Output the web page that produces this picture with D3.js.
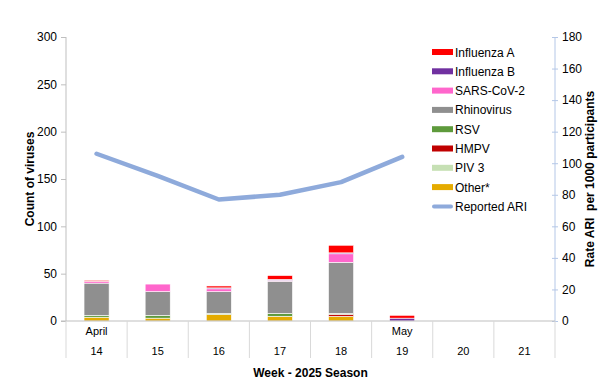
<!DOCTYPE html>
<html>
<head>
<meta charset="utf-8">
<script src="https://cdn.jsdelivr.net/npm/d3@7"></script>
<style>
  body { margin: 0; background: #fff; }
  svg { font-family: "Liberation Sans", Arial, sans-serif; }
</style>
</head>
<body>
<div id="chart"></div>
<script>
var weeks = ["14", "15", "16", "17", "18", "19", "20", "21"];
var months = ["April", "", "", "", "", "May", "", ""];

// virus counts per week (bottom to top in the stack)
var other = [4, 3, 7, 5, 5, 0, 0, 0];
var piv3 = [0, 0, 0, 0, 0, 0, 0, 0];
var hmpv = [0, 0, 0, 0, 2, 0, 0, 0];
var rsv = [2, 3, 1, 3, 1, 0, 0, 0];
var rhinovirus = [34, 25, 23, 34, 54, 0, 0, 0];
var sarsCov2 = [2, 8, 3, 1, 9, 0, 0, 0];
var influenzaB = [0, 0, 1, 1, 1, 3, 0, 0];
var influenzaA = [1, 0, 2, 4, 8, 3, 0, 0];

// reported ARI rate per 1000 participants
var reportedARI = [106, 92, 77, 80, 88, 104, null, null];

var countTicks = [0, 50, 100, 150, 200, 250, 300];
var rateTicks = [0, 20, 40, 60, 80, 100, 120, 140, 160, 180];

var keys = ["Other*", "PIV 3", "HMPV", "RSV", "Rhinovirus", "SARS-CoV-2", "Influenza B", "Influenza A"];
var colors = d3.scaleOrdinal().domain(keys)
    .range(["#e5ab00", "#c6e0b4", "#c00000", "#5e9a3c", "#8f8f8f", "#ff66cc", "#7030a0", "#ff0000"]);
var lineColor = "#8eaadb";

var w = 600, h = 384;
var plotLeft = 66, plotRight = 555, plotTop = 37, plotBottom = 321;

var dataset = weeks.map(function (wk, i) {
    return {
        week: wk,
        "Other*": other[i],
        "PIV 3": piv3[i],
        "HMPV": hmpv[i],
        "RSV": rsv[i],
        "Rhinovirus": rhinovirus[i],
        "SARS-CoV-2": sarsCov2[i],
        "Influenza B": influenzaB[i],
        "Influenza A": influenzaA[i]
    };
});

var series = d3.stack().keys(keys)(dataset);

var xScale = d3.scaleBand().domain(weeks).range([plotLeft, plotRight]).paddingInner(0).paddingOuter(0);
var yScale = d3.scaleLinear().domain([0, 300]).range([plotBottom, plotTop]);
var yRate = d3.scaleLinear().domain([0, 180]).range([plotBottom, plotTop]);

var svg = d3.select("#chart").append("svg").attr("width", w).attr("height", h);

// stacked bars
var barW = xScale.bandwidth() * 0.41;
var groups = svg.selectAll("g.series").data(series).enter().append("g")
    .attr("class", "series")
    .attr("fill", function (d) { return colors(d.key); });

groups.selectAll("rect")
    .data(function (d) { return d.filter(function (s) { return s[1] - s[0] > 0; }); })
    .enter()
    .append("rect")
    .attr("x", function (d) { return xScale(d.data.week) + (xScale.bandwidth() - barW) / 2; })
    .attr("y", function (d) { return yScale(d[1]); })
    .attr("width", barW)
    .attr("height", function (d) { return yScale(d[0]) - yScale(d[1]); })
    .attr("stroke", "#fff")
    .attr("stroke-width", 0.6);

// left axis
var yAxis = d3.axisLeft(yScale).tickValues(countTicks).tickSize(5).tickPadding(4);
var gy = svg.append("g").attr("transform", "translate(" + plotLeft + ",0)").call(yAxis);
gy.selectAll("path, line").attr("stroke", "#bfbfbf");
gy.selectAll("text").attr("font-size", "12px").attr("fill", "#000").attr("font-family", "Liberation Sans, Arial, sans-serif");
gy.select(".domain").attr("d", "M0," + plotTop + "V" + plotBottom);

// right axis
var yAxisR = d3.axisRight(yRate).tickValues(rateTicks).tickSize(0).tickPadding(7);
var gr = svg.append("g").attr("transform", "translate(" + plotRight + ",0)").call(yAxisR);
gr.select(".domain").attr("stroke", "#b4c7e7").attr("d", "M0," + plotTop + "V" + plotBottom);
gr.selectAll("text").attr("font-size", "12px").attr("fill", "#000").attr("font-family", "Liberation Sans, Arial, sans-serif");
gr.selectAll(".tick").append("line").attr("x1", -3).attr("x2", 3).attr("stroke", "#b4c7e7");

// baseline and category dividers
svg.append("line").attr("x1", plotLeft - 5).attr("x2", plotRight).attr("y1", plotBottom).attr("y2", plotBottom)
    .attr("stroke", "#bfbfbf");
var dividers = weeks.map(function (d) { return xScale(d); }).concat([plotRight]);
svg.selectAll("line.div").data(dividers).enter().append("line")
    .attr("class", "div")
    .attr("x1", function (d) { return d; }).attr("x2", function (d) { return d; })
    .attr("y1", plotBottom).attr("y2", 358)
    .attr("stroke", "#d9d9d9");

// category labels
svg.selectAll("text.month").data(weeks).enter().append("text")
    .attr("class", "month")
    .attr("x", function (d) { return xScale(d) + xScale.bandwidth() / 2; })
    .attr("y", 335)
    .attr("text-anchor", "middle")
    .attr("font-size", "11px")
    .attr("fill", "#000")
    .text(function (d, i) { return months[i]; });

svg.selectAll("text.week").data(weeks).enter().append("text")
    .attr("class", "week")
    .attr("x", function (d) { return xScale(d) + xScale.bandwidth() / 2; })
    .attr("y", 355)
    .attr("text-anchor", "middle")
    .attr("font-size", "11px")
    .attr("fill", "#000")
    .text(function (d) { return d; });

// ARI line
var line = d3.line()
    .defined(function (d) { return d != null; })
    .x(function (d, i) { return xScale(weeks[i]) + xScale.bandwidth() / 2; })
    .y(function (d) { return yRate(d); });

svg.append("path")
    .datum(reportedARI)
    .attr("d", line)
    .attr("fill", "none")
    .attr("stroke", lineColor)
    .attr("stroke-width", 4.5)
    .attr("stroke-linecap", "round")
    .attr("stroke-linejoin", "round");

// axis titles
svg.append("text")
    .attr("transform", "translate(34," + ((plotTop + plotBottom) / 2) + ") rotate(-90)")
    .attr("text-anchor", "middle")
    .attr("font-size", "12px")
    .attr("font-weight", "bold")
    .text("Count of viruses");

svg.append("text")
    .attr("transform", "translate(594," + ((plotTop + plotBottom) / 2) + ") rotate(-90)")
    .attr("text-anchor", "middle")
    .attr("font-size", "12px")
    .attr("font-weight", "bold")
    .attr("xml:space", "preserve")
    .text("Rate ARI  per 1000 participants");

svg.append("text")
    .attr("x", (plotLeft + plotRight) / 2)
    .attr("y", 377)
    .attr("text-anchor", "middle")
    .attr("font-size", "12px")
    .attr("font-weight", "bold")
    .text("Week - 2025 Season");

// legend
var legendItems = keys.slice().reverse().concat(["Reported ARI"]);
var legspacing = 19.3;
var legend = svg.selectAll(".legend").data(legendItems).enter().append("g")
    .attr("class", "legend")
    .attr("transform", function (d, i) { return "translate(432," + (52 + i * legspacing) + ")"; });

legend.append("rect")
    .attr("x", 0)
    .attr("y", function (d) { return d === "Reported ARI" ? -2 : -3; })
    .attr("width", 21)
    .attr("height", function (d) { return d === "Reported ARI" ? 4 : 6; })
    .attr("rx", function (d) { return d === "Reported ARI" ? 2 : 0; })
    .attr("fill", function (d) { return d === "Reported ARI" ? lineColor : colors(d); });

legend.append("text")
    .attr("x", 23)
    .attr("y", 4.5)
    .attr("font-size", "12px")
    .text(function (d) { return d; });
</script>
</body>
</html>
